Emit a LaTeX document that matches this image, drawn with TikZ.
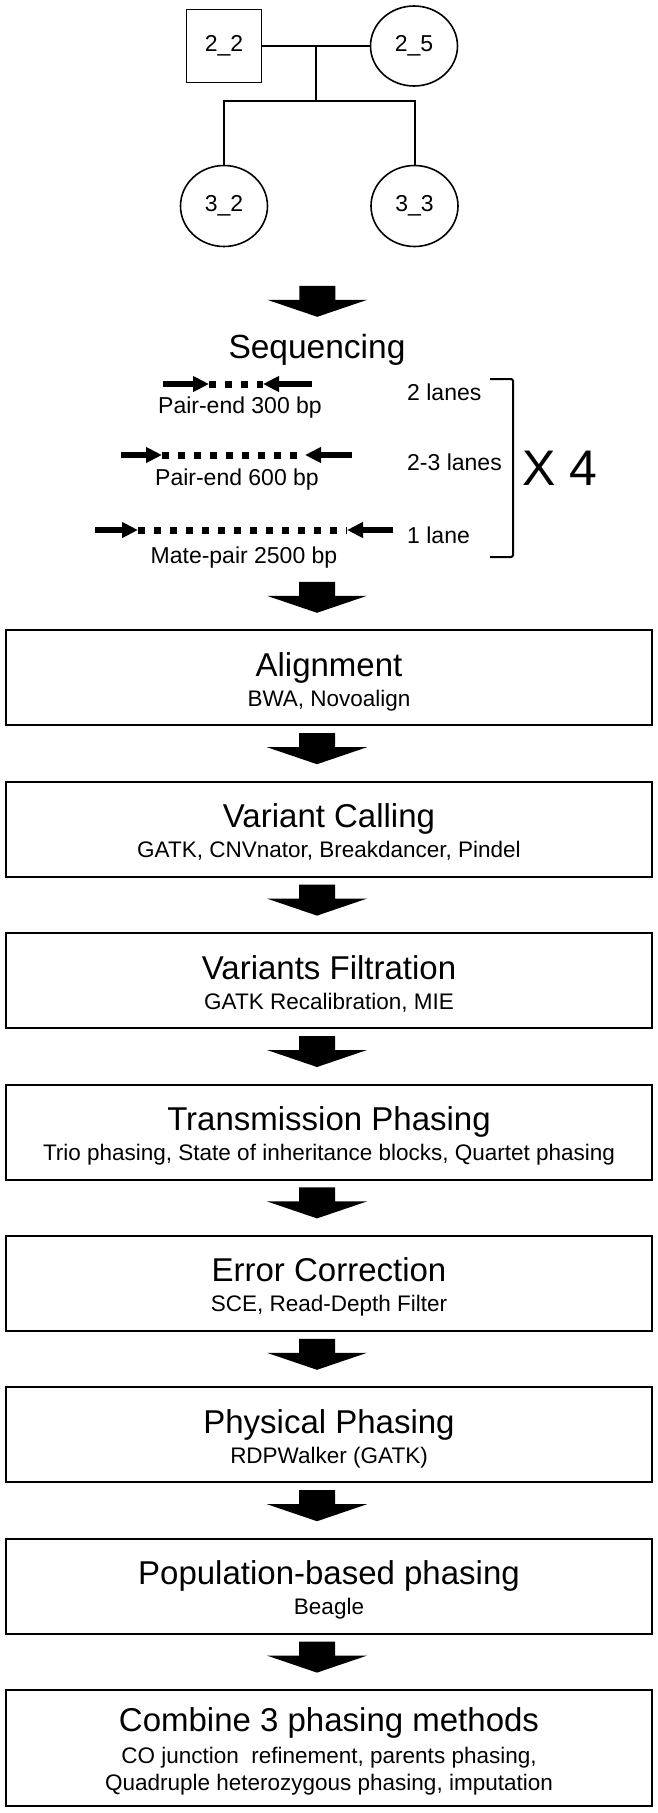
\documentclass[tikz,border=0pt]{standalone}
\usepackage{fontspec}
\setmainfont{Liberation Sans}
\usetikzlibrary{arrows.meta,calc,positioning,shapes.geometric}

\tikzset{
  person/.style={draw, line width=1.6pt, inner sep=0pt, font=\fontsize{23}{27}\selectfont},
  stage/.style={draw, line width=2pt, inner sep=0pt, minimum width=646pt, minimum height=95pt},
  stagetitle/.style={anchor=base, font=\fontsize{33}{38}\selectfont},
  stagesub/.style={anchor=base, font=\fontsize{22.5}{27}\selectfont},
  small/.style={font=\fontsize{23}{27}\selectfont},
  read/.style={line width=7pt},
  readtip/.style={line width=6.5pt, -{Triangle[length=16pt,width=15pt]}},
  fatarrow/.pic={\fill (-18,-15.5) -- (18,-15.5) -- (18,-1.5) -- (50,-1.5) -- (0,15.5) -- (-50,-1.5) -- (-18,-1.5) -- cycle;}
}

\begin{document}
\begin{tikzpicture}[x=1pt,y=-1pt]
\useasboundingbox (0,0) rectangle (658,1813);

% pedigree
\node[person, rectangle, minimum width=75pt, minimum height=73pt] (p22) at (224,46) {2\_2};
\node[person, ellipse, minimum width=87pt, minimum height=80pt] (p25) at (414,46) {2\_5};
\node[person, ellipse, minimum width=87pt, minimum height=81pt] (c32) at (224,206) {3\_2};
\node[person, ellipse, minimum width=87pt, minimum height=81pt] (c33) at (414.5,206) {3\_3};

\draw[line width=2pt] (p22.east) -- coordinate (mate) (p25.west);
\draw[line width=2pt] (mate) -- ++(0,55) coordinate (sib);
\draw[line width=2pt] (c32.north) |- (sib) -| (c33.north);

\pic at ($(c32.south)!.5!(c33.south)+(-2,54)$) {fatarrow};

% sequencing
\node[anchor=base, font=\fontsize{33.5}{38}\selectfont] (seq) at (317,358) {Sequencing};

\foreach \y/\a/\b/\c/\d in {384/163/209/263/312, 455/121/162/305/352, 530/95/138/347/393}
{
	\draw[readtip] (\a,\y) -- (\b,\y);
	\draw[read, dash pattern=on 7pt off 9pt] (\b,\y) -- (\c,\y);
	\draw[readtip] (\d,\y) -- (\c,\y);
}

\node[small, anchor=base] (pe300) at (240,413) {Pair-end 300 bp};
\node[small, anchor=base] (pe600) at (237,485) {Pair-end 600 bp};
\node[small, anchor=base] (mp2500) at (244,563) {Mate-pair 2500 bp};

\node[small, anchor=base west, inner sep=0pt] (l1) at (407,400) {2 lanes};
\node[small, anchor=base west, inner sep=0pt] (l2) at (407,470) {2-3 lanes};
\node[small, anchor=base west, inner sep=0pt] (l3) at (407,543) {1 lane};

\draw[line width=2pt, rounded corners=2pt] (490,379) -- (513,379) -- (513,557) -- (490,557);
\node[anchor=base west, inner sep=0pt, font=\fontsize{50}{56}\selectfont] (times) at (522,485) {X 4};

% pipeline
\foreach \n/\y/\t/\s in {
		align/629.3/Alignment/{BWA, Novoalign},
		call/780.7/Variant Calling/{GATK, CNVnator, Breakdancer, Pindel},
		filt/932.1/Variants Filtration/{GATK Recalibration, MIE},
		trans/1083.5/Transmission Phasing/{Trio phasing, State of inheritance blocks, Quartet phasing},
		err/1234.9/Error Correction/{SCE, Read-Depth Filter},
		phys/1386.3/Physical Phasing/{RDPWalker (GATK)},
		pop/1537.7/Population-based phasing/Beagle%
	}
{
	\node[stage, anchor=north] (\n) at (329,\y) {};
	\node[stagetitle] (\n-t) at ($(\n.north)+(0,47)$) {\t};
	\node[stagesub] (\n-s) at ($(\n.north)+(0,77)$) {\s};
	\pic at ($(\n.north)+(-12,-32)$) {fatarrow};
}

\node[stage, anchor=north, minimum height=116pt] (comb) at (329,1689.1) {};
\node[stagetitle] (comb-t) at ($(comb.north)+(0,42.7)$) {Combine 3 phasing methods};
\node[stagesub] (comb-s1) at ($(comb.north)+(0,74.3)$) {CO junction~ refinement, parents phasing,};
\node[stagesub] (comb-s2) at ($(comb.north)+(0,101)$) {Quadruple heterozygous phasing, imputation};
\pic at ($(comb.north)+(-12,-32)$) {fatarrow};

\end{tikzpicture}
\end{document}
